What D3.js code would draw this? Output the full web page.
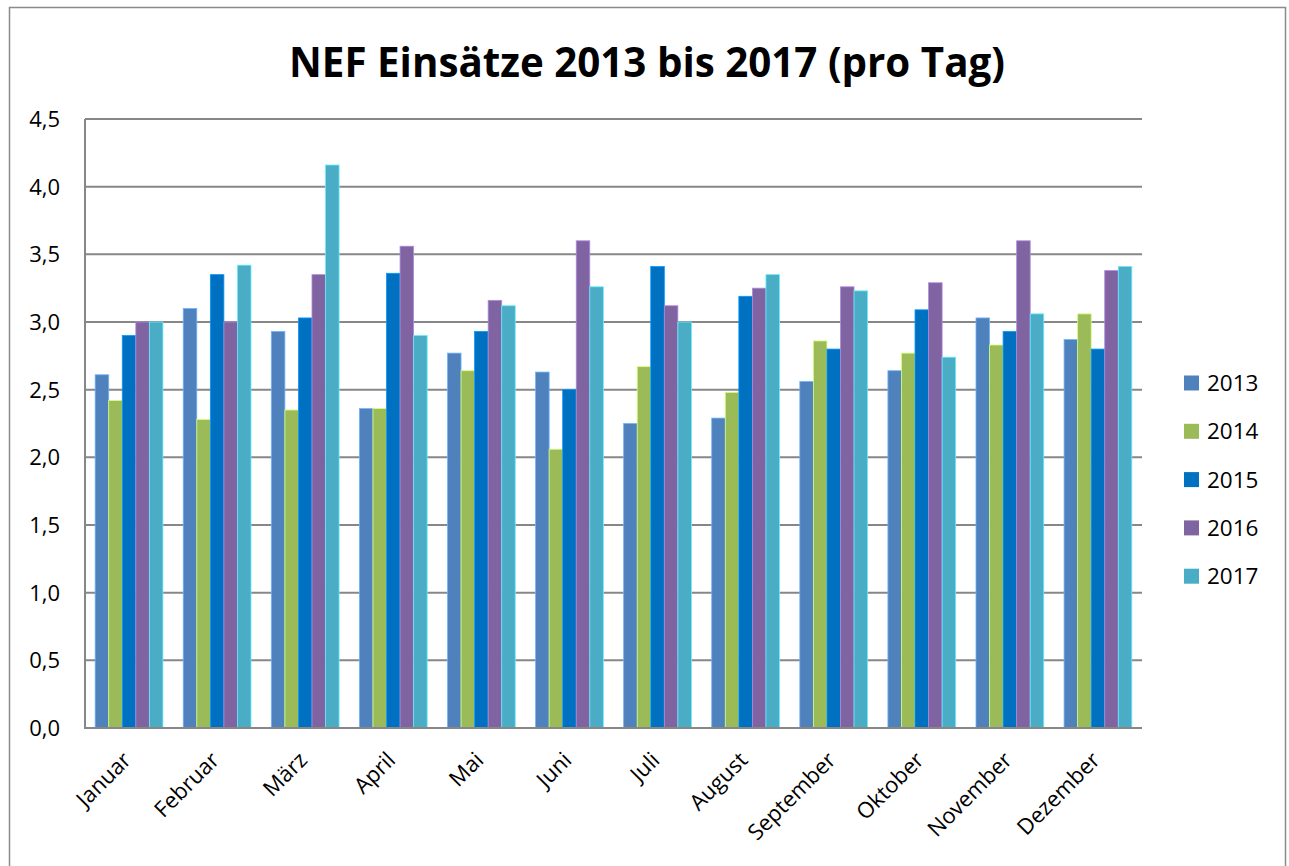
<!DOCTYPE html>
<html>
<head>
<meta charset="utf-8">
<script src="https://cdn.jsdelivr.net/npm/d3@7"></script>
<style>
  html, body { margin: 0; padding: 0; background: #fff; }
  svg { display: block; }
  text { font-family: "Open Sans", "DejaVu Sans", sans-serif; fill: #000; }
</style>
</head>
<body>
<svg id="chart" width="1289" height="866"></svg>
<script>
const title = "NEF Einsätze 2013 bis 2017 (pro Tag)";
const months = ["Januar","Februar","März","April","Mai","Juni","Juli","August","September","Oktober","November","Dezember"];
const years = ["2013","2014","2015","2016","2017"];
const colors = ["#4F81BD","#9BBB59","#0070C0","#8064A2","#4BACC6"];
const v2013 = [2.61, 3.10, 2.93, 2.36, 2.77, 2.63, 2.25, 2.29, 2.56, 2.64, 3.03, 2.87];
const v2014 = [2.42, 2.28, 2.35, 2.36, 2.64, 2.06, 2.67, 2.48, 2.86, 2.77, 2.83, 3.06];
const v2015 = [2.90, 3.35, 3.03, 3.36, 2.93, 2.50, 3.41, 3.19, 2.80, 3.09, 2.93, 2.80];
const v2016 = [3.00, 3.00, 3.35, 3.56, 3.16, 3.60, 3.12, 3.25, 3.26, 3.29, 3.60, 3.38];
const v2017 = [3.00, 3.42, 4.16, 2.90, 3.12, 3.26, 3.00, 3.35, 3.23, 2.74, 3.06, 3.41];
const yTicks = [0, 0.5, 1.0, 1.5, 2.0, 2.5, 3.0, 3.5, 4.0, 4.5];

const series = [v2013, v2014, v2015, v2016, v2017];

const svg = d3.select("#chart");
const W = 1289, H = 866;

// outer frame
svg.append("rect").attr("x", 9.5).attr("y", 7.5).attr("width", 1276).attr("height", 870)
  .attr("fill", "#fff").attr("stroke", "#8a8a8a").attr("stroke-width", 1.5);

const plot = {left: 85, right: 1142, top: 119, bottom: 728};

const x0 = d3.scaleBand().domain(months).range([plot.left, plot.right])
  .paddingInner(1.5/6.5).paddingOuter(0.75/6.5);
const x1 = d3.scaleBand().domain(years).range([0, x0.bandwidth()]).padding(0);
const y = d3.scaleLinear().domain([0, 4.5]).range([plot.bottom, plot.top]);

const fmt = d => d.toFixed(1).replace(".", ",");

// gridlines
svg.append("g").selectAll("line").data(yTicks.filter(t => t > 0)).join("line")
  .attr("x1", plot.left).attr("x2", plot.right)
  .attr("y1", d => y(d)).attr("y2", d => y(d))
  .attr("stroke", "#878787").attr("stroke-width", 2);

// y axis labels
svg.append("g").selectAll("text").data(yTicks).join("text")
  .attr("x", 60).attr("y", d => y(d)).attr("dy", "0.36em")
  .attr("text-anchor", "end").attr("font-size", 22).text(fmt);

// bars
const groups = svg.append("g").selectAll("g").data(months).join("g")
  .attr("transform", m => `translate(${x0(m)},0)`);
groups.selectAll("rect").data((m, i) => years.map((yr, j) => ({yr, j, v: series[j][i]})))
  .join("rect")
  .attr("x", d => x1(d.yr))
  .attr("y", d => y(d.v))
  .attr("width", x1.bandwidth())
  .attr("height", d => y(0) - y(d.v))
  .attr("fill", d => colors[d.j])
  .attr("stroke", d => d3.color(colors[d.j]).brighter(0.9))
  .attr("stroke-width", 0.8);

// axes lines
svg.append("line").attr("x1", plot.left).attr("x2", plot.left)
  .attr("y1", plot.top).attr("y2", plot.bottom + 1)
  .attr("stroke", "#878787").attr("stroke-width", 2);
svg.append("line").attr("x1", plot.left - 1).attr("x2", plot.right)
  .attr("y1", plot.bottom).attr("y2", plot.bottom)
  .attr("stroke", "#878787").attr("stroke-width", 2);

// x labels
svg.append("g").selectAll("text").data(months).join("text")
  .attr("transform", m => `translate(${x0(m) + x0.bandwidth()/2 - 2},756) rotate(-45)`)
  .attr("text-anchor", "end").attr("dy", "0.35em").attr("font-size", 22)
  .text(m => m);

// title (fit to target width)
const t = svg.append("text").attr("x", 647).attr("y", 77)
  .attr("text-anchor", "middle").attr("font-weight", "bold")
  .attr("font-size", 40).text(title);
const tw = t.node().getComputedTextLength();
t.attr("font-size", 40 * 716 / tw);

// legend
const lg = svg.append("g").selectAll("g").data(years).join("g")
  .attr("transform", (d, i) => `translate(1184,${383 + i * 48.3})`);
lg.append("rect").attr("x", 0).attr("y", -7.5).attr("width", 15).attr("height", 15)
  .attr("fill", (d, i) => colors[i]);
lg.append("text").attr("x", 23).attr("y", 0).attr("dy", "0.36em")
  .attr("font-size", 22.5).text(d => d);
</script>
</body>
</html>
